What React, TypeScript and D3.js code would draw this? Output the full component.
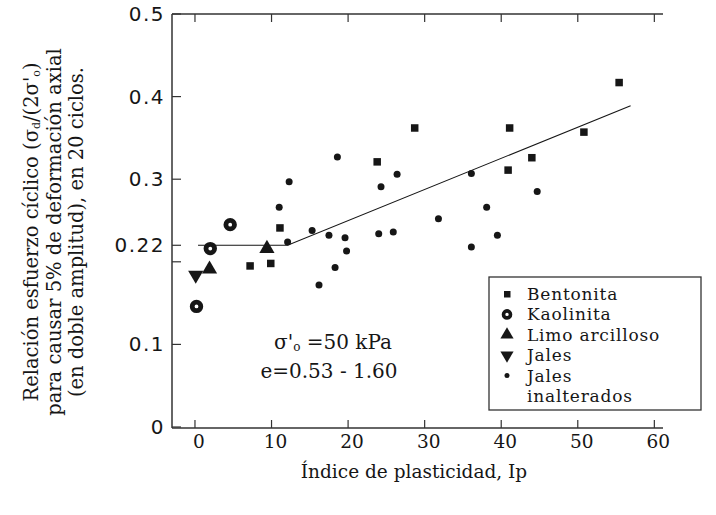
import React from "react";
import * as d3 from "d3";

const bentonita: [number, number][] = [
  [55.4, 0.417], [50.8, 0.357], [44.0, 0.326], [41.1, 0.362], [40.9, 0.311],
  [28.7, 0.362], [23.8, 0.321], [11.1, 0.241], [7.2, 0.195], [9.9, 0.198],
];
const kaolinita: [number, number][] = [[4.6, 0.245], [2.0, 0.216], [0.2, 0.146]];
const limo: [number, number][] = [[9.4, 0.216], [1.9, 0.191]];
const jales: [number, number][] = [[0.1, 0.184]];
const jalesInalterados: [number, number][] = [
  [18.6, 0.327], [12.3, 0.297], [11.0, 0.266], [12.1, 0.224], [15.3, 0.238],
  [17.5, 0.232], [19.6, 0.229], [19.8, 0.213], [18.3, 0.193], [16.2, 0.172],
  [26.4, 0.306], [36.1, 0.307], [24.3, 0.291], [44.7, 0.285], [38.1, 0.266],
  [31.8, 0.252], [24.0, 0.234], [25.9, 0.236], [36.1, 0.218], [39.5, 0.232],
];
const trendLine: [number, number][] = [[0.4, 0.22], [12.1, 0.22], [56.9, 0.389]];
const xTicks = [0, 10, 20, 30, 40, 50, 60];
const yTicks = [0, 0.1, 0.2, 0.22, 0.3, 0.4, 0.5];
const yTickLabels = ["0", "0.1", "", "0.22", "0.3", "0.4", "0.5"];
const legendLabels = ["Bentonita", "Kaolinita", "Limo arcilloso", "Jales", "Jales", "inalterados"];

const INK = "#161616";

export default function App() {
  const x = d3.scaleLinear().domain([-3, 61]).range([172, 662]);
  const y = d3.scaleLinear().domain([0, 0.5]).range([427, 14]);
  const line = d3.line<[number, number]>().x((d) => x(d[0])).y((d) => y(d[1]));
  const tri = d3.symbol().type(d3.symbolTriangle).size(100);
  const triL = d3.symbol().type(d3.symbolTriangle).size(75);

  const square = (p: [number, number], i: number, s = 7.5) => (
    <rect key={"b" + i} x={x(p[0]) - s / 2} y={y(p[1]) - s / 2} width={s} height={s} fill={INK} />
  );
  const ring = (cx: number, cy: number, r: number, key: string, sw = 4.8) => (
    <circle key={key} cx={cx} cy={cy} r={r} fill="white" stroke={INK} strokeWidth={sw} />
  );

  const legendX = 507;
  const pitch = 20.4;
  const baselines = legendLabels.map((_, i) => 300 + i * pitch);
  const markerY = baselines.map((b) => b - 6);

  return (
    <svg width={716} height={515} style={{ position: "absolute", left: 0, top: 0, background: "white" }}>
      <rect width={716} height={515} fill="white" />
      {/* axes */}
      <line x1={172} y1={14} x2={663} y2={14} stroke="#333" strokeWidth={1.5} />
      <line x1={172} y1={14} x2={172} y2={428} stroke="#333" strokeWidth={1.5} />
      <line x1={172} y1={428} x2={663} y2={428} stroke="#333" strokeWidth={1.5} />
      {xTicks.map((t) => (
        <g key={"xt" + t}>
          <line x1={x(t)} x2={x(t)} y1={428} y2={420} stroke="#333" strokeWidth={1.2} />
          <line x1={x(t)} x2={x(t)} y1={14} y2={22} stroke="#333" strokeWidth={1.2} />
          <text x={x(t) + 4} y={448} textAnchor="middle" fontFamily="DejaVu Serif" fontSize={18.5} fill={INK}>
            {t}
          </text>
        </g>
      ))}
      {yTicks.map((t, i) => (
        <g key={"yt" + t}>
          <line x1={172} x2={181} y1={y(t)} y2={y(t)} stroke="#333" strokeWidth={1.2} />
          <text x={165} y={y(t) + 7} textAnchor="end" fontFamily="DejaVu Sans" fontSize={20} letterSpacing={1.5} fill={INK}>
            {yTickLabels[i]}
          </text>
        </g>
      ))}

      {/* trend line */}
      <path d={line(trendLine) || ""} fill="none" stroke={INK} strokeWidth={1.1} />

      {/* data */}
      {bentonita.map((p, i) => square(p, i))}
      {jalesInalterados.map((p, i) => (
        <circle key={"j" + i} cx={x(p[0])} cy={y(p[1])} r={3.5} fill={INK} />
      ))}
      {kaolinita.map((p, i) => ring(x(p[0]), y(p[1]), 4.3, "k" + i))}
      {limo.map((p, i) => (
        <path key={"l" + i} d={tri() || ""} transform={`translate(${x(p[0])},${y(p[1])})`} fill={INK} />
      ))}
      {jales.map((p, i) => (
        <path key={"jl" + i} d={tri() || ""} transform={`translate(${x(p[0])},${y(p[1])}) rotate(180)`} fill={INK} />
      ))}

      {/* annotation */}
      <text x={333} y={349} textAnchor="middle" fontFamily="DejaVu Serif" fontSize={20} fill={INK}>
        σ'<tspan fontSize={12} dy={2}>o</tspan><tspan dy={-2}> =50 kPa</tspan>
      </text>
      <text x={329} y={378} textAnchor="middle" fontFamily="DejaVu Serif" fontSize={20} fill={INK}>
        e=0.53 - 1.60
      </text>

      {/* legend */}
      <rect x={489} y={277} width={212} height={133} fill="white" stroke="#333" strokeWidth={1.3} />
      <rect x={legendX - 3} y={markerY[0] - 3} width={6.5} height={6.5} fill={INK} />
      {ring(legendX, markerY[1], 3.5, "lk", 3.6)}
      <path d={triL() || ""} transform={`translate(${legendX},${markerY[2]})`} fill={INK} />
      <path d={triL() || ""} transform={`translate(${legendX},${markerY[3]}) rotate(180)`} fill={INK} />
      <circle cx={legendX} cy={markerY[4]} r={2.5} fill={INK} />
      {legendLabels.map((s, i) => (
        <text key={"lg" + i} x={527} y={baselines[i]} fontFamily="DejaVu Serif" fontSize={17} letterSpacing={0.8} fill={INK}>
          {s}
        </text>
      ))}

      {/* axis titles */}
      <text x={414} y={478} textAnchor="middle" fontFamily="DejaVu Serif" fontSize={18.5} fill={INK}>
        Índice de plasticidad, Ip
      </text>
      <g transform="translate(0,232) rotate(-90)" fontFamily="DejaVu Serif" fontSize={19.5} fill={INK} textAnchor="middle">
        <text x={0} y={38}>
          Relación esfuerzo cíclico (σ<tspan fontSize={11} dy={2}>d</tspan>
          <tspan dy={-2}>/(2σ'</tspan><tspan fontSize={11} dy={2}>o</tspan><tspan dy={-2}>)</tspan>
        </text>
        <text x={0} y={61}>para causar 5% de deformación axial</text>
        <text x={0} y={83}>(en doble amplitud), en 20 ciclos.</text>
      </g>
    </svg>
  );
}
